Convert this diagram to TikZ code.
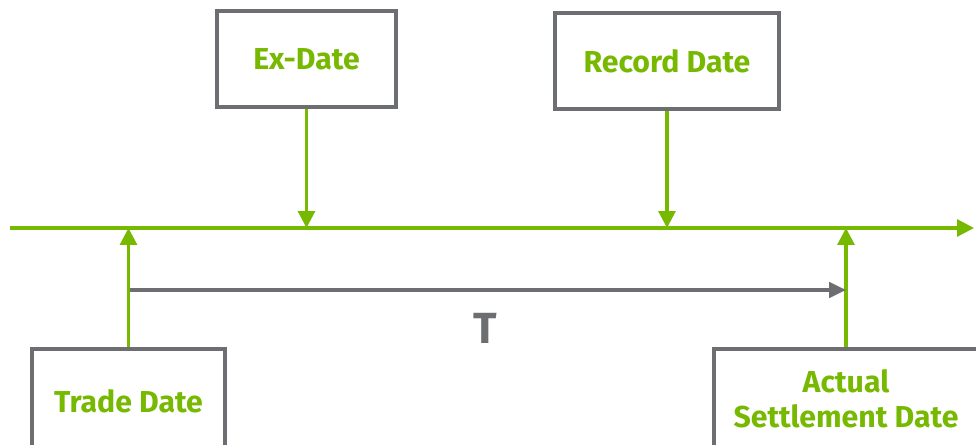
\documentclass[tikz,border=0pt]{standalone}
\usepackage{fontspec}
\setmainfont{Fira Sans}
\usetikzlibrary{arrows.meta}
\definecolor{lime}{HTML}{76B900}
\definecolor{slate}{HTML}{6D6E71}

\begin{document}
\begin{tikzpicture}[x=0.025cm,y=0.025cm,
	datebox/.style={draw=slate,line width=2.2pt,fill=white,align=center,
		text=lime,font=\fontsize{21.5}{25}\selectfont\bfseries,inner sep=0pt},
	tick/.style={draw=lime,line width=2.2pt,-{Triangle[width=12pt,length=12pt]}},
	span/.style={draw=slate,line width=2.2pt,-{Triangle[width=11pt,length=12pt]}}]
	
	\clip (0,0) rectangle (976,-445);
	
	\coordinate (start) at (10, -228);
	\coordinate (end)   at (974, -228);
	
	\node[datebox,minimum width=4.475cm,minimum height=2.4cm] (ex)     at (306.5, -59)  {Ex-Date};
	\node[datebox,minimum width=5.6cm,minimum height=2.4cm]   (record) at (667, -61)    {Record Date};
	\node[datebox,minimum width=4.825cm,minimum height=2.6cm] (trade)  at (128.5, -401) {Trade Date};
	\node[datebox,minimum width=6.6cm,minimum height=2.5cm]   (actual) at (846, -399)   {Actual\\Settlement Date};
	
	\coordinate (tstart) at (130, -290);
	\coordinate (tend)   at (846, -290);
	\node[text=slate,font=\fontsize{31}{31}\selectfont\bfseries] (tlabel) at (485, -328) {T};
	
	\draw[tick] (start) -- (end);
	\draw[tick] (ex.south) -- (ex.south |- start);
	\draw[tick] (record.south) -- (record.south |- start);
	\draw[tick] (trade.north) -- (trade.north |- start);
	\draw[tick] (actual.north) -- (actual.north |- start);
	\draw[span] (tstart) -- (tend);
	
\end{tikzpicture}
\end{document}
